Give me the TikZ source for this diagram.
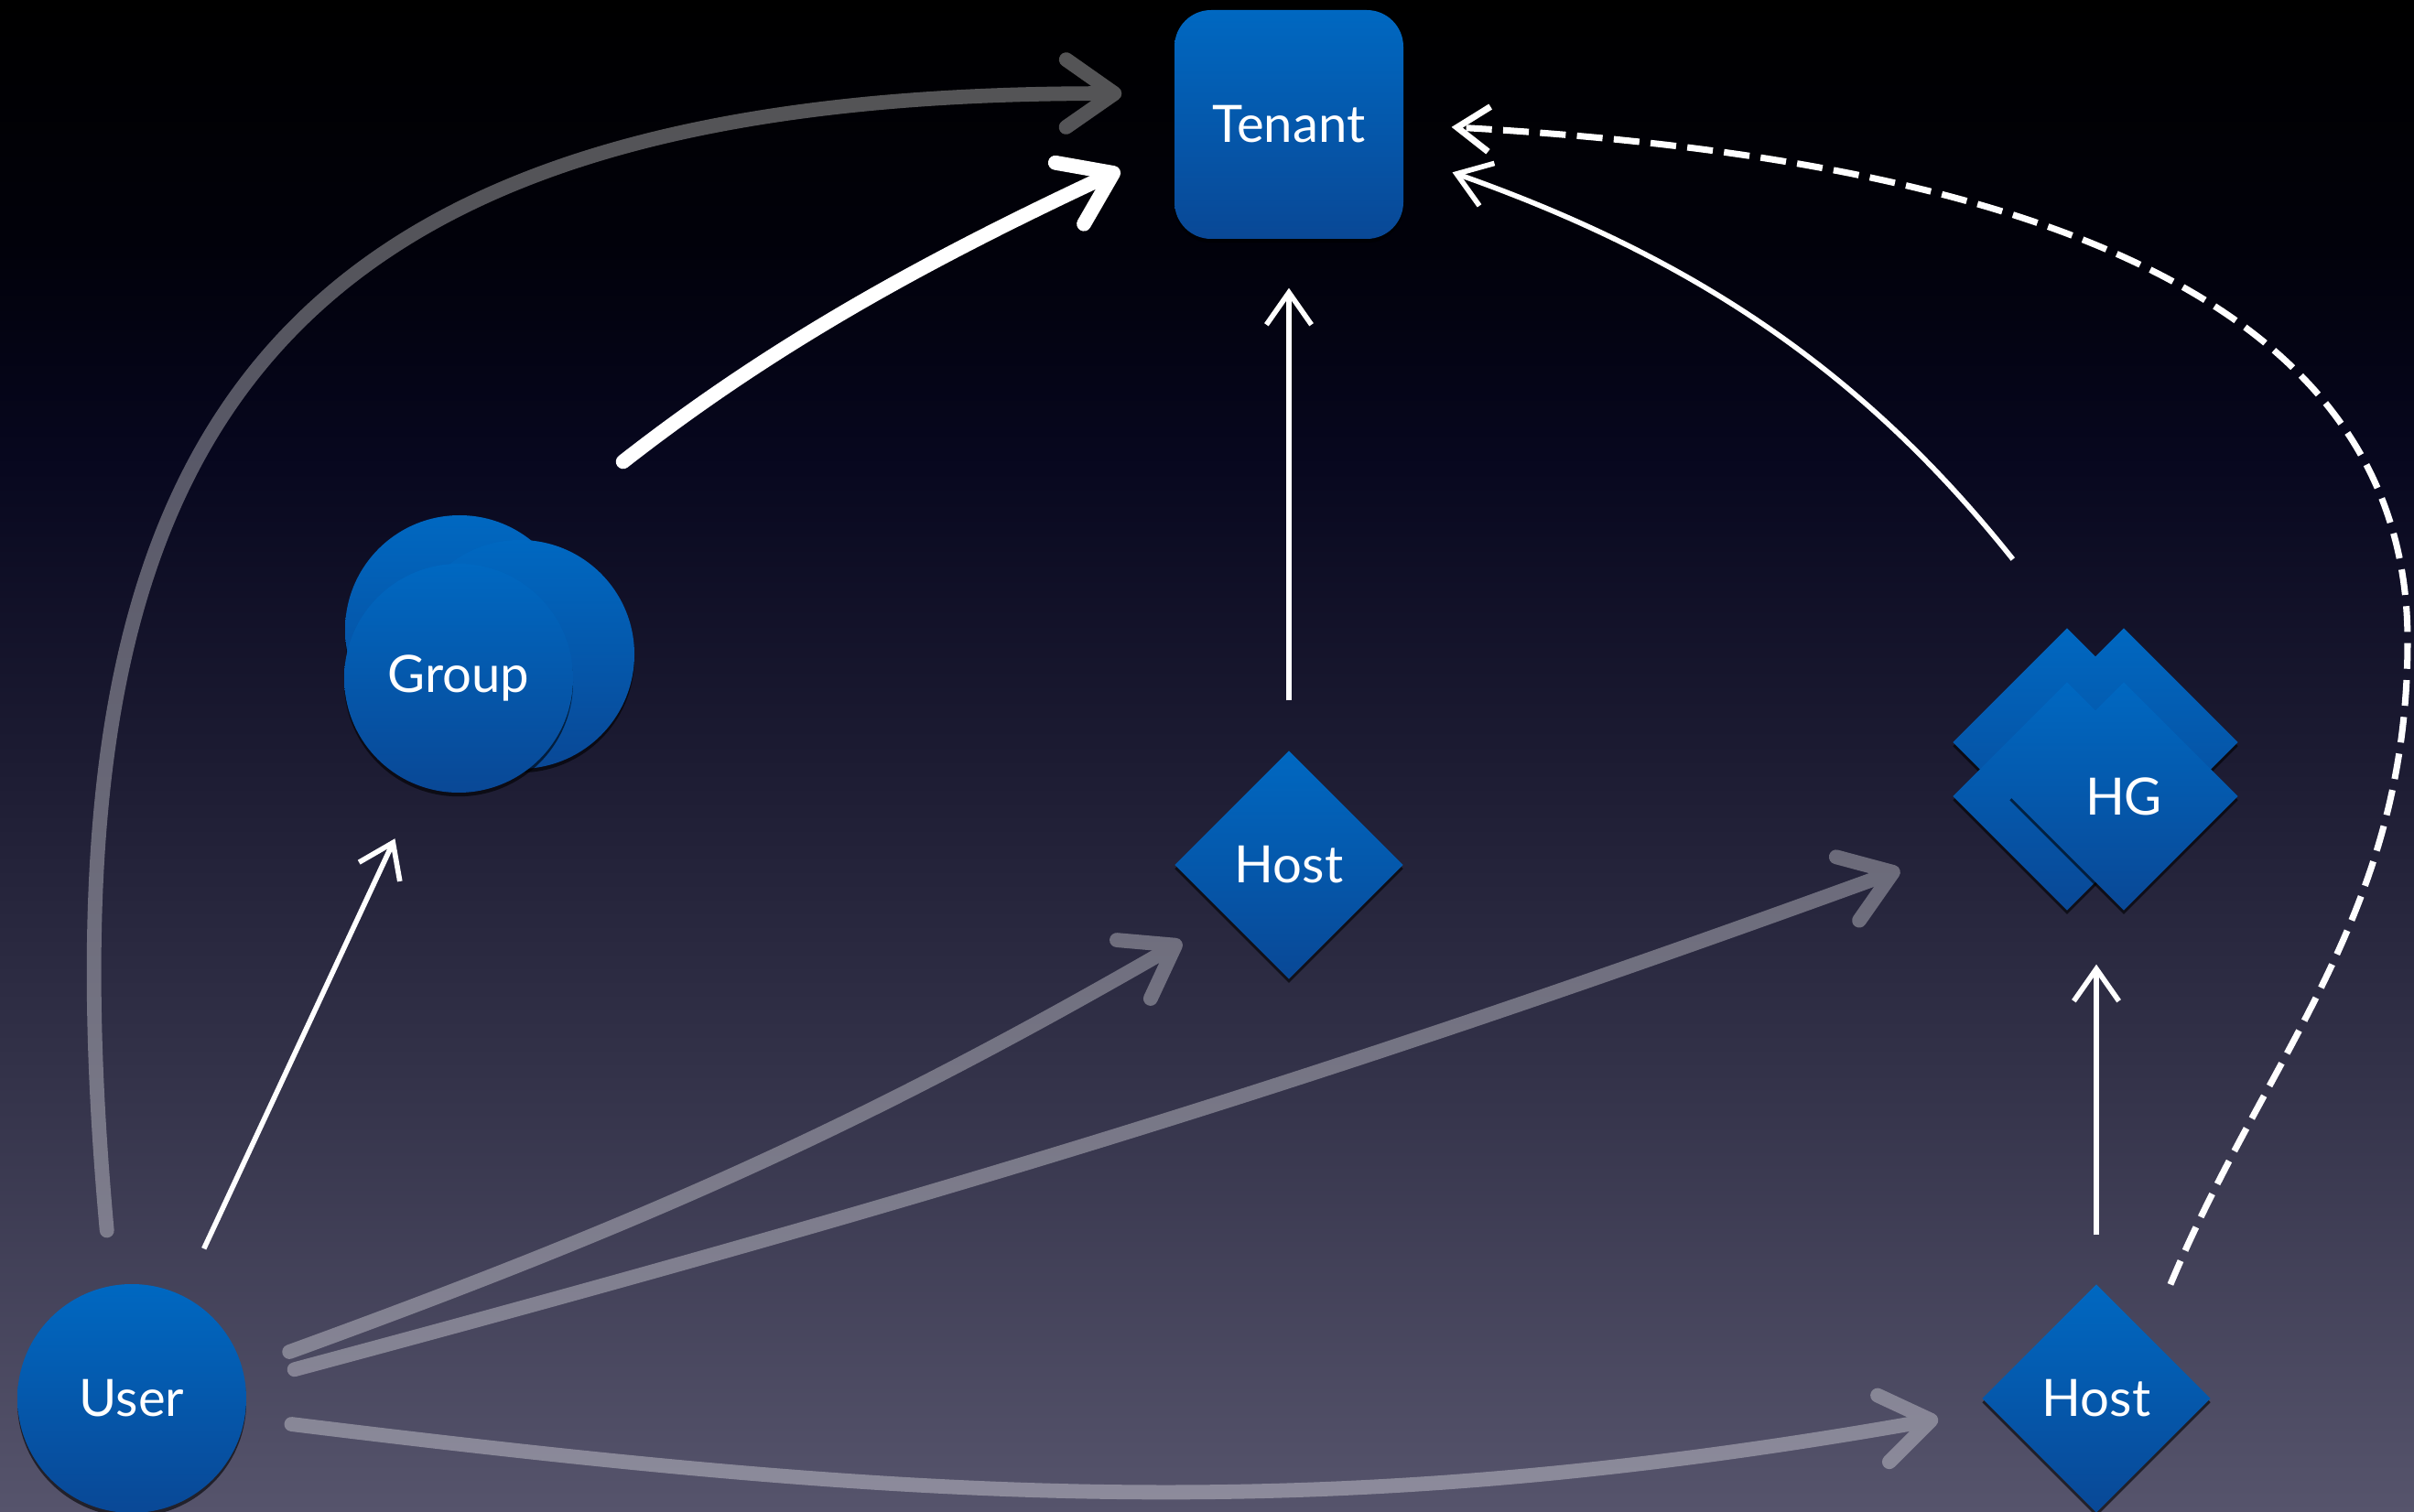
\documentclass[tikz,border=0pt]{standalone}
\usepackage{fontspec}
\setmainfont{Lato}
\usepackage{tikz}
\usetikzlibrary{positioning, arrows.meta, shapes.geometric, shadows}
\definecolor{nodetop}{RGB}{0,104,193}
\definecolor{nodebot}{RGB}{9,72,150}
\definecolor{bgbot}{RGB}{86,84,108}
\definecolor{bglow}{RGB}{50,49,72}
\definecolor{bgmid}{RGB}{28,27,50}
\definecolor{bgnavy}{RGB}{7,7,30}
\definecolor{bgdark}{RGB}{1,1,10}
% the path covers 25bp..75bp of the shading
\pgfdeclareverticalshading{slide}{100bp}{color(0bp)=(bgbot); color(25bp)=(bgbot); color(40bp)=(bglow); color(50bp)=(bgmid); color(60bp)=(bgnavy); color(67bp)=(bgdark); color(75bp)=(black); color(100bp)=(black)}
\tikzset{
>={Straight Barb[length=10pt, width=14pt]}, % open arrow heads
every node/.style={font=\fontsize{16}{19}\selectfont, text=white}, % white labels
blue node/.style={top color=nodetop, bottom color=nodebot, inner sep=0pt,
  drop shadow={shadow xshift=0pt, shadow yshift=-1.2pt, opacity=0.6, fill=black}}, % every box is a blue gradient
tenant/.style={blue node, rectangle, rounded corners=0.4cm, minimum size=2.5cm},
disc/.style={blue node, circle, minimum size=2.5cm},
host/.style={blue node, diamond, aspect=1, minimum size=2.5cm},
link/.style={->, draw=white, line width=1.6pt}, % plain white connector
chalk/.style={-{Straight Barb[round, length=15pt, width=21pt]}, draw=white, line width=4.5pt, line cap=round, line join=round}, % hand drawn connector
}

\begin{document}
\begin{tikzpicture}
        \useasboundingbox (0,0) rectangle (26.37,-16.52);
        \shade[shading=slide] (0,0) rectangle (26.37,-16.52);

        \node[tenant] (tenant) at (14.08,-1.36) {Tenant};
        \node[host, below of=tenant, node distance=8.09cm] (hostm) {Host};
        \node[disc] (user) at (1.44,-15.28) {User};
        \node[host, right of=user, node distance=21.46cm] (hostb) {Host};
        % group: three stacked circles
        \node[disc] (grpa) at (5.02,-6.88) {};
        \node[disc] (grpb) at (5.68,-7.15) {};
        \node[disc] (group) at (5.01,-7.41) {Group};
        % host group: four stacked diamonds
        \node[host] (hga) at (22.58,-8.11) {};
        \node[host] (hgb) at (23.20,-8.11) {};
        \node[host] (hgc) at (22.58,-8.70) {};
        \node[host] (hg) at (23.20,-8.70) {HG};

        \draw[link, shorten <=0.56cm, shorten >=0.63cm] (user.64) -- (group.250);
        \draw[link, shorten <=0.54cm, shorten >=0.53cm] (hostm.north) -- (tenant.south);
        \draw[link, shorten <=0.53cm, shorten >=0.58cm] (hostb.north) -- (hostb.north |- hg.south);
        \draw[link, shorten <=0.95cm, shorten >=0.56cm] (hga.north) to[bend right=16] (tenant.-15);
        \draw[link, line width=2pt, dash pattern=on 8pt off 3.5pt, shorten <=0.61cm, shorten >=0.52cm]
        (hostb.50) .. controls (24.77,-11.5) and (26.3,-10.0) .. (26.3,-7.0)
        .. controls (26.3,-3.0) and (21.5,-1.7) .. (tenant.east);

        \begin{scope}[transparency group, opacity=0.33]
        \draw[chalk, shorten <=0.6cm, shorten >=0.57cm] (user.100) .. controls (0.4,-5.0) and (2.6,-1.0) .. (tenant.165);
        \draw[chalk, shorten <=0.54cm, shorten >=0.55cm] (user.15) to[out=20, in=210] (hostm.219);
        \draw[chalk, shorten <=0.55cm, shorten >=1.07cm] (user.8) to[out=15, in=200] (hgc.208);
        \draw[chalk, shorten <=0.51cm, shorten >=0.6cm] (user.-10) to[out=-7, in=190] (hostb.186);
        \end{scope}
        \draw[chalk, shorten <=1.33cm, shorten >=0.65cm] (grpa.54) to[out=38, in=205] (tenant.190);
      \end{tikzpicture}
\end{document}
